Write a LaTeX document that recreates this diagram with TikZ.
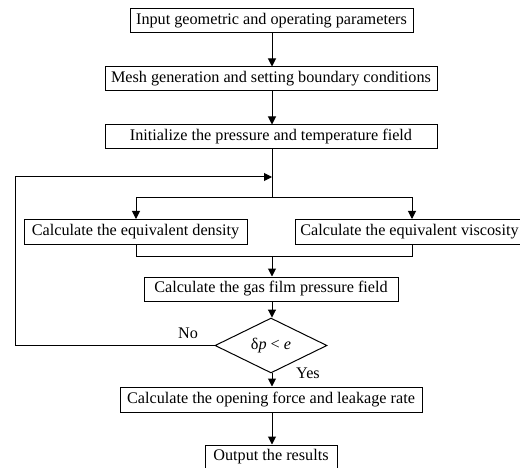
\documentclass[tikz,border=0pt]{standalone}
\usepackage{fontspec}
\setmainfont{Liberation Serif}
\usetikzlibrary{shapes.geometric,arrows.meta}
\begin{document}
\begin{tikzpicture}[x=1pt,y=-1pt,
  every node/.style={font=\fontsize{16.2}{18}\selectfont},
  box/.style={draw,line width=1pt,minimum height=24pt,inner sep=0pt,anchor=center},
  arr/.style={line width=1pt,-{Triangle[length=8pt,width=8pt]}},
  ln/.style={line width=1pt}]
\useasboundingbox (0,0) rectangle (520,468);
\node[box,minimum width=283] (b1) at (271.5,21) {Input geometric and operating parameters};
\node[box,minimum width=332] (b2) at (271,79) {Mesh generation and setting boundary conditions};
\node[box,minimum width=332] (b3) at (271,137) {Initialize the pressure and temperature field};
\coordinate (j) at (272,177);
\coordinate (s) at (272,198);
\coordinate (sl) at (136,198);
\coordinate (sr) at (412,198);
\node[box,minimum width=223,minimum height=25] (den) at (135.5,232) {Calculate the equivalent density};
\node[box,minimum width=229,minimum height=25] (vis) at (409.5,232) {Calculate the equivalent viscosity};
\coordinate (m) at (272,257);
\coordinate (ml) at (136,257);
\coordinate (mr) at (412,257);
\node[box,minimum width=254] (gas) at (271,289) {Calculate the gas film pressure field};
\node[draw,line width=1pt,shape=diamond,minimum width=112,minimum height=37,inner sep=0pt] (d) at (271,345.5) {δ\textit{p} < \textit{e}};
\node[box,minimum width=302,minimum height=25] (op) at (271,399.5) {Calculate the opening force and leakage rate};
\node[box,minimum width=132] (out) at (271,457) {Output the results};
\coordinate (lp) at (15,345.5);
\node (no) at (188,333) {No};
\node (yes) at (308,373) {Yes};
\draw[arr] (b1.south -| 272,0) -- (b2.north -| 272,0);
\draw[arr] (b2.south -| 272,0) -- (b3.north -| 272,0);
\draw[ln] (b3.south -| 272,0) -- (s);
\draw[arr] (s) -- (sl) -- (den.north -| sl);
\draw[arr] (s) -- (sr) -- (vis.north -| sr);
\draw[ln] (den.south -| ml) -- (ml) -- (mr) -- (vis.south -| mr);
\draw[arr] (m) -- (gas.north -| m);
\draw[arr] (gas.south -| m) -- (d.north -| m);
\draw[arr] (d.west) -- (lp) |- (j);
\draw[arr] (d.south -| m) -- (op.north -| m);
\draw[arr] (op.south -| m) -- (out.north -| m);
\end{tikzpicture}
\end{document}
